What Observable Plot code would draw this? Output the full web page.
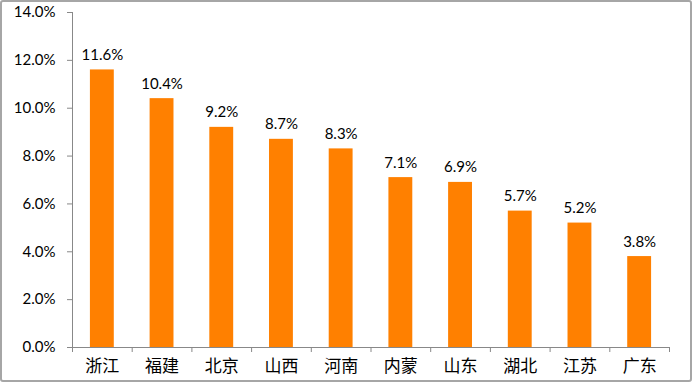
<!DOCTYPE html>
<html><head><meta charset="utf-8">
<script src="https://cdn.jsdelivr.net/npm/d3@7"></script>
<script src="https://cdn.jsdelivr.net/npm/@observablehq/plot@0.6"></script>
<style>
body{margin:0;background:#fff;}
#wrap{position:relative;width:692px;height:382px;}
#frame{position:absolute;left:0;top:0;width:692px;height:382px;box-sizing:border-box;border:2px solid #a6a6a6;border-radius:3px;pointer-events:none;}
svg{display:block;}
</style></head>
<body><div id="wrap"><div id="frame"></div></div>
<script>
const provinces = ["浙江","福建","北京","山西","河南","内蒙","山东","湖北","江苏","广东"];
const values = [0.116,0.104,0.092,0.087,0.083,0.071,0.069,0.057,0.052,0.038];
const yTicks = [0,0.02,0.04,0.06,0.08,0.10,0.12,0.14];

const data = provinces.map((p,i)=>({p, i, v: values[i]}));
const font = 'Lato, "Noto Sans CJK SC", sans-serif';

const chart = Plot.plot({
  width: 692, height: 382,
  marginLeft: 72, marginRight: 23, marginTop: 12, marginBottom: 35,
  style: {fontFamily: font, fontSize: "15px", color: "#000", background: "transparent"},
  x: {type: "linear", domain: [0, provinces.length], axis: null},
  y: {domain: [0, 0.14], axis: null},
  marks: [
    Plot.rectY(data, {x1: d => d.i + 0.3, x2: d => d.i + 0.7, y: "v", fill: "#ff8000"}),
    Plot.text(data, {x: d => d.i + 0.5, y: "v", text: d => d3.format(".1%")(d.v), lineAnchor: "bottom", dy: -10, fontSize: 15, fill: "#000"}),
    Plot.axisY({ticks: yTicks, tickFormat: ".1%", tickSize: 5, tickPadding: 12, stroke: "#888", fill: "#000", fontSize: 15, label: null}),
    Plot.frame({anchor: "left", stroke: "#888"}),
    Plot.frame({anchor: "bottom", stroke: "#888"}),
    Plot.axisX({ticks: d3.range(provinces.length + 1), tickFormat: () => "", tickSize: 5, stroke: "#888", label: null}),
    Plot.axisX({ticks: d3.range(provinces.length).map(i => i + 0.5), tickFormat: t => provinces[Math.floor(t)], tickSize: 0, tickPadding: 12, fontSize: 17, fill: "#000", label: null})
  ]
});
document.getElementById("wrap").prepend(chart);
</script></body></html>
